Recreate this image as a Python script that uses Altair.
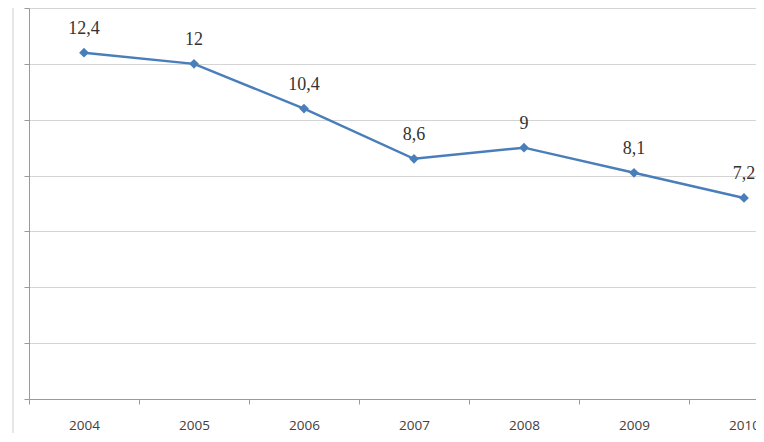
import altair as alt
import pandas as pd

years = ["2004", "2005", "2006", "2007", "2008", "2009", "2010"]
values = [12.4, 12.0, 10.4, 8.6, 9.0, 8.1, 7.2]
labels = ["12,4", "12", "10,4", "8,6", "9", "8,1", "7,2"]

df = pd.DataFrame({"year": years, "value": values, "label": labels})

x = alt.X("year:N", sort=years,
          scale=alt.Scale(type="band", range=[0, 770], paddingInner=0, paddingOuter=0),
          axis=alt.Axis(title=None, labelAngle=0, tickBand="extent", grid=False,
                        domainColor="#9a9a9a", tickColor="#9a9a9a", tickSize=5,
                        labelFont="Open Sans", labelFontSize=13.5, labelColor="#404040",
                        labelPadding=14))
y = alt.Y("value:Q", scale=alt.Scale(domain=[0, 14], nice=False),
          axis=alt.Axis(title=None, values=[0, 2, 4, 6, 8, 10, 12, 14], labels=False,
                        gridColor="#d4d4d4", gridWidth=1.2, domainColor="#9a9a9a",
                        tickColor="#9a9a9a", tickSize=5))

base = alt.Chart(df)

line = base.mark_line(color="#4a7ebb", strokeWidth=2.5).encode(x=x, y=y)
pts = base.mark_point(shape="diamond", filled=True, size=95, color="#4a7ebb", opacity=1).encode(x=x, y=y)
txt = base.mark_text(dy=-24, font="Liberation Serif", fontSize=18, color="#333333").encode(
    x=x, y=y, text="label:N")

border = alt.Chart(df).mark_rule(color="#e6e6e6", strokeWidth=1).encode(
    x=alt.value(-16), y=alt.value(-8), y2=alt.value(440))

chart = alt.layer(border, line, pts, txt).properties(
    width=727, height=391,
    autosize=alt.AutoSizeParams(type="none"),
    padding={"left": 21, "top": 0, "right": 0, "bottom": 34},
).configure_view(stroke=None)

chart.save("out.html", embed_options={"renderer": "svg", "actions": False})
